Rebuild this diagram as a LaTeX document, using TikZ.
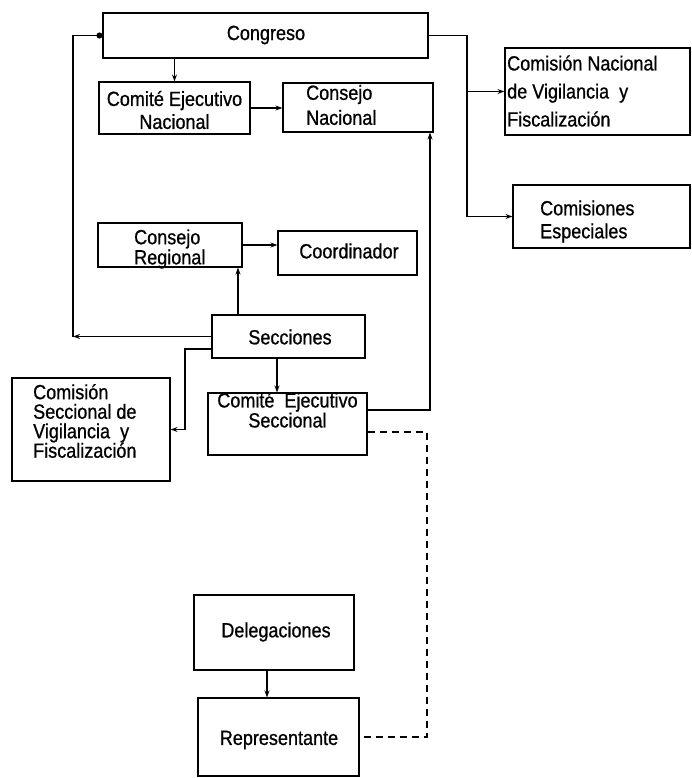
\documentclass[tikz,border=0pt]{standalone}
\usepackage{fontspec}
\setmainfont[FakeStretch=0.88, FakeBold=0.8]{Liberation Sans}
\usetikzlibrary{arrows.meta}
\begin{document}
\begin{tikzpicture}[x=1pt,y=-1pt,
  box/.style={draw, line width=1.1pt, inner sep=0pt},
  txt/.style={inner sep=0pt, font=\fontsize{20.5}{#1}\selectfont},
  txt/.default=22,
  arr/.style={line width=1.1pt, -{Stealth[length=7pt,width=5pt]}},
  conn/.style={line width=1.1pt},
  dashline/.style={line width=1.1pt, dash pattern=on 7pt off 5pt}]
\useasboundingbox (0,0) rectangle (691,778);

% boxes
\node[box, minimum width=325pt, minimum height=45pt] (Cong) at (265.5,35.5) {};
\node[box, minimum width=151pt, minimum height=52pt] (CEN) at (174.5,108) {};
\node[box, minimum width=150pt, minimum height=49pt] (CN) at (358,107.5) {};
\node[box, minimum width=185pt, minimum height=87pt] (CNVF) at (597.5,91.5) {};
\node[box, minimum width=177pt, minimum height=63pt] (CE) at (601.5,216.5) {};
\node[box, minimum width=144pt, minimum height=44pt] (CR) at (170,245) {};
\node[box, minimum width=139pt, minimum height=44pt] (Coord) at (347.5,253) {};
\node[box, minimum width=153pt, minimum height=43pt] (Sec) at (288.5,336.5) {};
\node[box, minimum width=159pt, minimum height=62pt] (CES) at (287.5,424) {};
\node[box, minimum width=158pt, minimum height=103pt] (CSVF) at (91,429.5) {};
\node[box, minimum width=160pt, minimum height=75pt] (Del) at (274,632.5) {};
\node[box, minimum width=161pt, minimum height=78pt] (Rep) at (278.5,737) {};

% texts
\node[txt] (tCong) at (266,35) {Congreso};
\node[txt=23, align=center] (tCEN) at (174.5,110) {Comité Ejecutivo\\Nacional};
\node[txt=25, align=left, anchor=west] (tCN) at (306,105) {Consejo\\Nacional};
\node[txt=28, align=left, anchor=west] (tCNVF) at (507,91) {Comisión Nacional\\de Vigilancia\ \ y\\Fiscalización};
\node[txt=23, align=left, anchor=west] (tCE) at (540,221.5) {Comisiones\\Especiales};
\node[txt=18.5, align=left, anchor=west] (tCR) at (134,249) {Consejo\\Regional};
\node[txt] (tCoord) at (349,251) {Coordinador};
\node[txt] (tSec) at (290,337) {Secciones};
\node[txt=20, align=center] (tCES) at (287.5,410) {Comité\ \ Ejecutivo\\Seccional};
\node[txt=19.5, align=left, anchor=west] (tCSVF) at (33,421) {Comisión\\Seccional de\\Vigilancia\ \ y\\Fiscalización};
\node[txt] (tDel) at (276,632) {Delegaciones};
\node[txt] (tRep) at (279,740) {Representante};

% helper coordinates
\coordinate (jR) at (467,0);
\coordinate (xsr) at (238,0);
\coordinate (cL) at (73,0);
\coordinate (cS) at (185,349);
\coordinate (xs) at (277,0);
\coordinate (cR) at (430,410);
\coordinate (cD) at (427,432);
\coordinate (xd) at (267,0);

% connectors
\draw[arr] (CEN.north |- Cong.south) -- (CEN.north);
\draw[arr] (CEN.east) -- (CN.west |- CEN.east);
\draw[arr] (Cong.east) -| (jR |- CE.west) -- (CE.west);
\draw[arr] (jR |- CNVF.west) -- (CNVF.west);
\draw[arr] (CR.east) -- (Coord.west |- CR.east);
\draw[arr] (xsr |- Sec.north) -- (xsr |- CR.south);
\draw[arr] (Sec.west) -- (cL |- Sec.west);
\draw[conn, -{Circle[length=6pt]}] (cL |- Sec.west) -- (cL |- Cong.west) -- (Cong.west);
\draw[arr] (Sec.west |- cS) -- (cS) |- (CSVF.east);
\draw[arr] (xs |- Sec.south) -- (xs |- CES.north);
\draw[arr] (CES.east |- cR) -- (cR) -- (cR |- CN.south);
\draw[dashline] (CES.east |- cD) -- (cD) |- (Rep.east);
\draw[arr] (xd |- Del.south) -- (xd |- Rep.north);
\end{tikzpicture}
\end{document}
